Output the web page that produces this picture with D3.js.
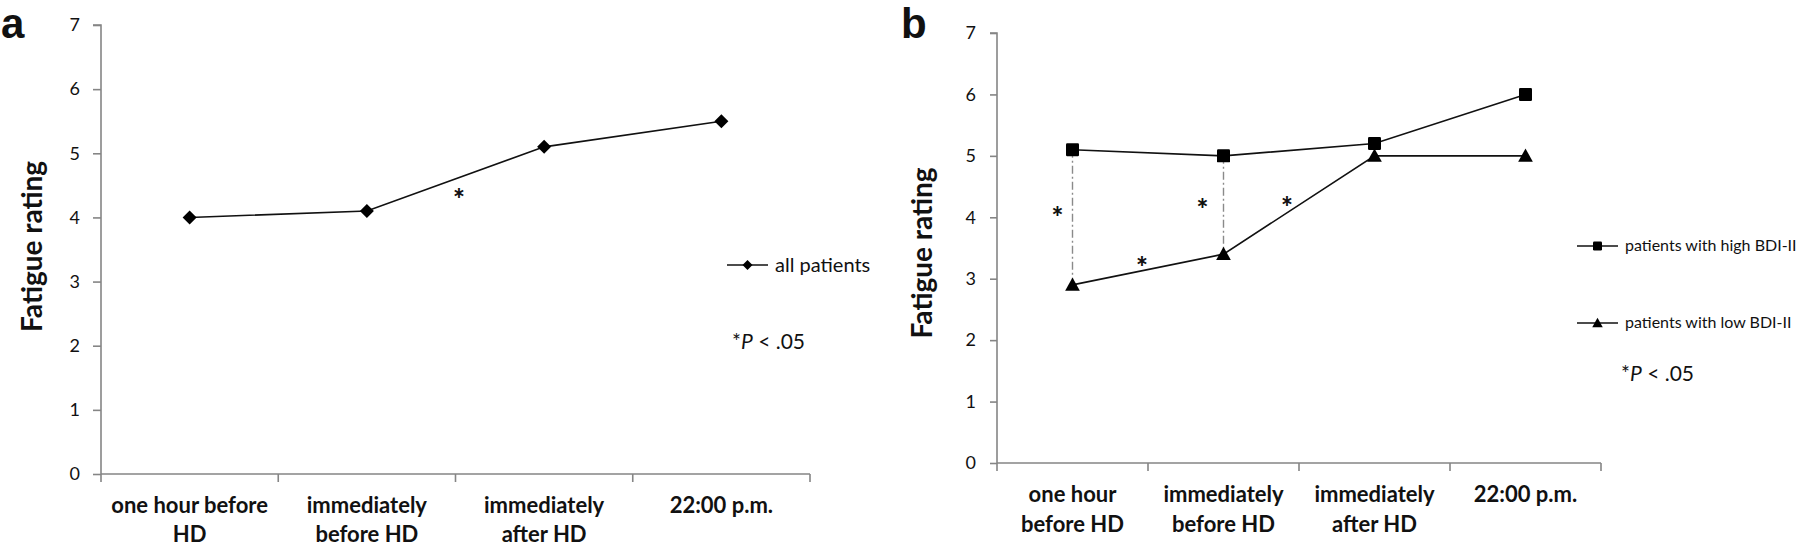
<!DOCTYPE html>
<html>
<head>
<meta charset="utf-8">
<script src="https://cdn.jsdelivr.net/npm/d3@7"></script>
<style>
  html, body { margin: 0; padding: 0; background: #fff; }
  svg { display: block; }
  text { font-family: Lato, "Open Sans", sans-serif; fill: #111; }
</style>
</head>
<body>
<svg id="chart" width="1800" height="547"></svg>
<script>
// ---------- data ----------
const categoriesA = [["one hour before", "HD"], ["immediately", "before HD"], ["immediately", "after HD"], ["22:00 p.m."]];
const categoriesB = [["one hour", "before HD"], ["immediately", "before HD"], ["immediately", "after HD"], ["22:00 p.m."]];
const yTicks = [0, 1, 2, 3, 4, 5, 6, 7];
const allPatients = [4.0, 4.1, 5.1, 5.5];
const highBDI = [5.1, 5.0, 5.2, 6.0];
const lowBDI = [2.9, 3.4, 5.0, 5.0];
// significance asterisks: position in category-index units and value units
const sigA = [{ i: 1.52, v: 4.4 }];
const sigB = [{ i: -0.10, v: 4.12 }, { i: 0.86, v: 4.25 }, { i: 1.42, v: 4.28 }, { i: 0.46, v: 3.31 }];
// vertical dash-dot connectors between groups (category index)
const connectorsB = [0, 1];
const legendA = ["all patients"];
const legendB = ["patients with high BDI-II", "patients with low BDI-II"];
const yTitle = "Fatigue rating";
const pNote = ".05";

// ---------- drawing ----------
const svg = d3.select("#chart");
const axisColor = "#858585";

function drawPanel(cfg) {
  const g = svg.append("g");
  const y = d3.scaleLinear().domain([0, 7]).range([cfg.y0, cfg.y1]);
  const x = d3.scaleLinear().domain([-0.5, 3.5]).range([cfg.x0, cfg.x1]);
  const band = d3.scaleBand().domain(d3.range(4)).range([cfg.x0, cfg.x1]).padding(0);

  // y axis
  const yAxis = d3.axisLeft(y).tickValues(yTicks).tickSize(cfg.tick).tickPadding(cfg.tickPad).tickFormat(d3.format("d"));
  const ya = g.append("g").attr("transform", `translate(${cfg.x0},0)`).call(yAxis);
  ya.select(".domain").attr("stroke", axisColor).attr("stroke-width", 1.6).attr("d", `M${-cfg.tick},${cfg.y1}H0V${cfg.y0}`);
  ya.selectAll(".tick line").attr("stroke", axisColor).attr("stroke-width", 1.6);
  ya.selectAll(".tick text").style("font-family", "Lato, sans-serif").style("font-size", "18px").attr("fill", "#111");

  // x axis (ticks at band boundaries)
  const xa = g.append("g").attr("transform", `translate(0,${cfg.y0})`);
  xa.append("path").attr("d", `M${cfg.x0},0H${cfg.x1}`).attr("stroke", axisColor).attr("stroke-width", 1.6).attr("fill", "none");
  xa.selectAll("line.xt").data(d3.range(5)).join("line")
    .attr("x1", d => x(d - 0.5)).attr("x2", d => x(d - 0.5))
    .attr("y1", 0).attr("y2", 8).attr("stroke", axisColor).attr("stroke-width", 1.6);
  cfg.cats.forEach((lines, i) => {
    const t = xa.append("text").attr("text-anchor", "middle")
      .attr("x", band(i) + band.bandwidth() / 2)
      .style("font-weight", "700").style("font-size", "22px");
    lines.forEach((ln, k) => {
      t.append("tspan").attr("x", band(i) + band.bandwidth() / 2)
        .attr("y", cfg.lab1 + k * cfg.labGap).text(ln);
    });
  });

  // y title
  g.append("text").attr("text-anchor", "middle")
    .attr("transform", `translate(${cfg.titleX},${(cfg.y0 + cfg.y1) / 2 + cfg.titleDy}) rotate(-90)`)
    .style("font-weight", "700").style("font-size", "28px").text(yTitle);

  // panel letter
  g.append("text").attr("x", cfg.letterX).attr("y", 38)
    .style("font-family", "'Liberation Sans', Arial, sans-serif").style("font-weight", "700").style("font-size", "42px")
    .attr("fill", "#000").text(cfg.letter);

  return { g, x, y };
}

function marker(g, type, cx, cy, s) {
  if (type === "diamond") {
    g.append("path").attr("d", `M${cx},${cy - s}L${cx + s},${cy}L${cx},${cy + s}L${cx - s},${cy}Z`).attr("fill", "#000");
  } else if (type === "square") {
    g.append("rect").attr("x", cx - s).attr("y", cy - s).attr("width", 2 * s).attr("height", 2 * s).attr("rx", 1.2).attr("fill", "#000");
  } else {
    g.append("path").attr("d", `M${cx},${cy - s * 1.05}L${cx + s * 1.05},${cy + s * 0.85}L${cx - s * 1.05},${cy + s * 0.85}Z`).attr("fill", "#000");
  }
}

function series(p, values, type, size) {
  const line = d3.line().x((d, i) => p.x(i)).y(d => p.y(d));
  p.g.append("path").datum(values).attr("d", line).attr("fill", "none").attr("stroke", "#111").attr("stroke-width", 1.6);
  values.forEach((v, i) => marker(p.g, type, p.x(i), p.y(v), size));
}

function asterisks(p, list) {
  p.g.selectAll(null).data(list).join("text")
    .attr("x", d => p.x(d.i)).attr("y", d => p.y(d.v) + 17)
    .attr("text-anchor", "middle").style("font-weight", "900").style("font-size", "28px").attr("fill", "#000").text("*");
}

function legendItem(g, x0, yc, type, size, label, fs) {
  g.append("line").attr("x1", x0).attr("x2", x0 + 41).attr("y1", yc).attr("y2", yc).attr("stroke", "#111").attr("stroke-width", 1.6);
  marker(g, type, x0 + 20.5, yc, size);
  return g.append("text").attr("x", x0 + 48).attr("y", yc + fs * 0.33).style("font-size", fs + "px").text(label);
}

function pText(g, x, yb) {
  const t = g.append("text").attr("x", x).attr("y", yb).style("font-size", "21px");
  t.append("tspan").text("*");
  t.append("tspan").style("font-style", "italic").text("P");
  t.append("tspan").text(" < " + pNote);
}

// Panel a
const pa = drawPanel({ x0: 101, x1: 810, y0: 474, y1: 25, tick: 8, tickPad: 13, cats: categoriesA,
  lab1: 39, labGap: 29, titleX: 42, titleDy: -3, letter: "a", letterX: 1 });
series(pa, allPatients, "diamond", 7);
asterisks(pa, sigA);
legendItem(pa.g, 727, 265, "diamond", 5, legendA[0], 20);
pText(pa.g, 732, 349);

// Panel b
const pb = drawPanel({ x0: 997, x1: 1601, y0: 463, y1: 33, tick: 7, tickPad: 14, cats: categoriesB,
  lab1: 39, labGap: 30, titleX: 932, titleDy: 5, letter: "b", letterX: 901 });
connectorsB.forEach(i => {
  pb.g.append("line").attr("x1", pb.x(i)).attr("x2", pb.x(i))
    .attr("y1", pb.y(highBDI[i])).attr("y2", pb.y(lowBDI[i]))
    .attr("stroke", "#8a8a8a").attr("stroke-width", 1.4).attr("stroke-dasharray", "8,3,2,3");
});
series(pb, highBDI, "square", 6.5);
series(pb, lowBDI, "triangle", 7);
asterisks(pb, sigB);
legendItem(pb.g, 1577, 246, "square", 4.5, legendB[0], 16);
legendItem(pb.g, 1577, 323, "triangle", 5, legendB[1], 16);
pText(pb.g, 1621, 381);
</script>
</body>
</html>
